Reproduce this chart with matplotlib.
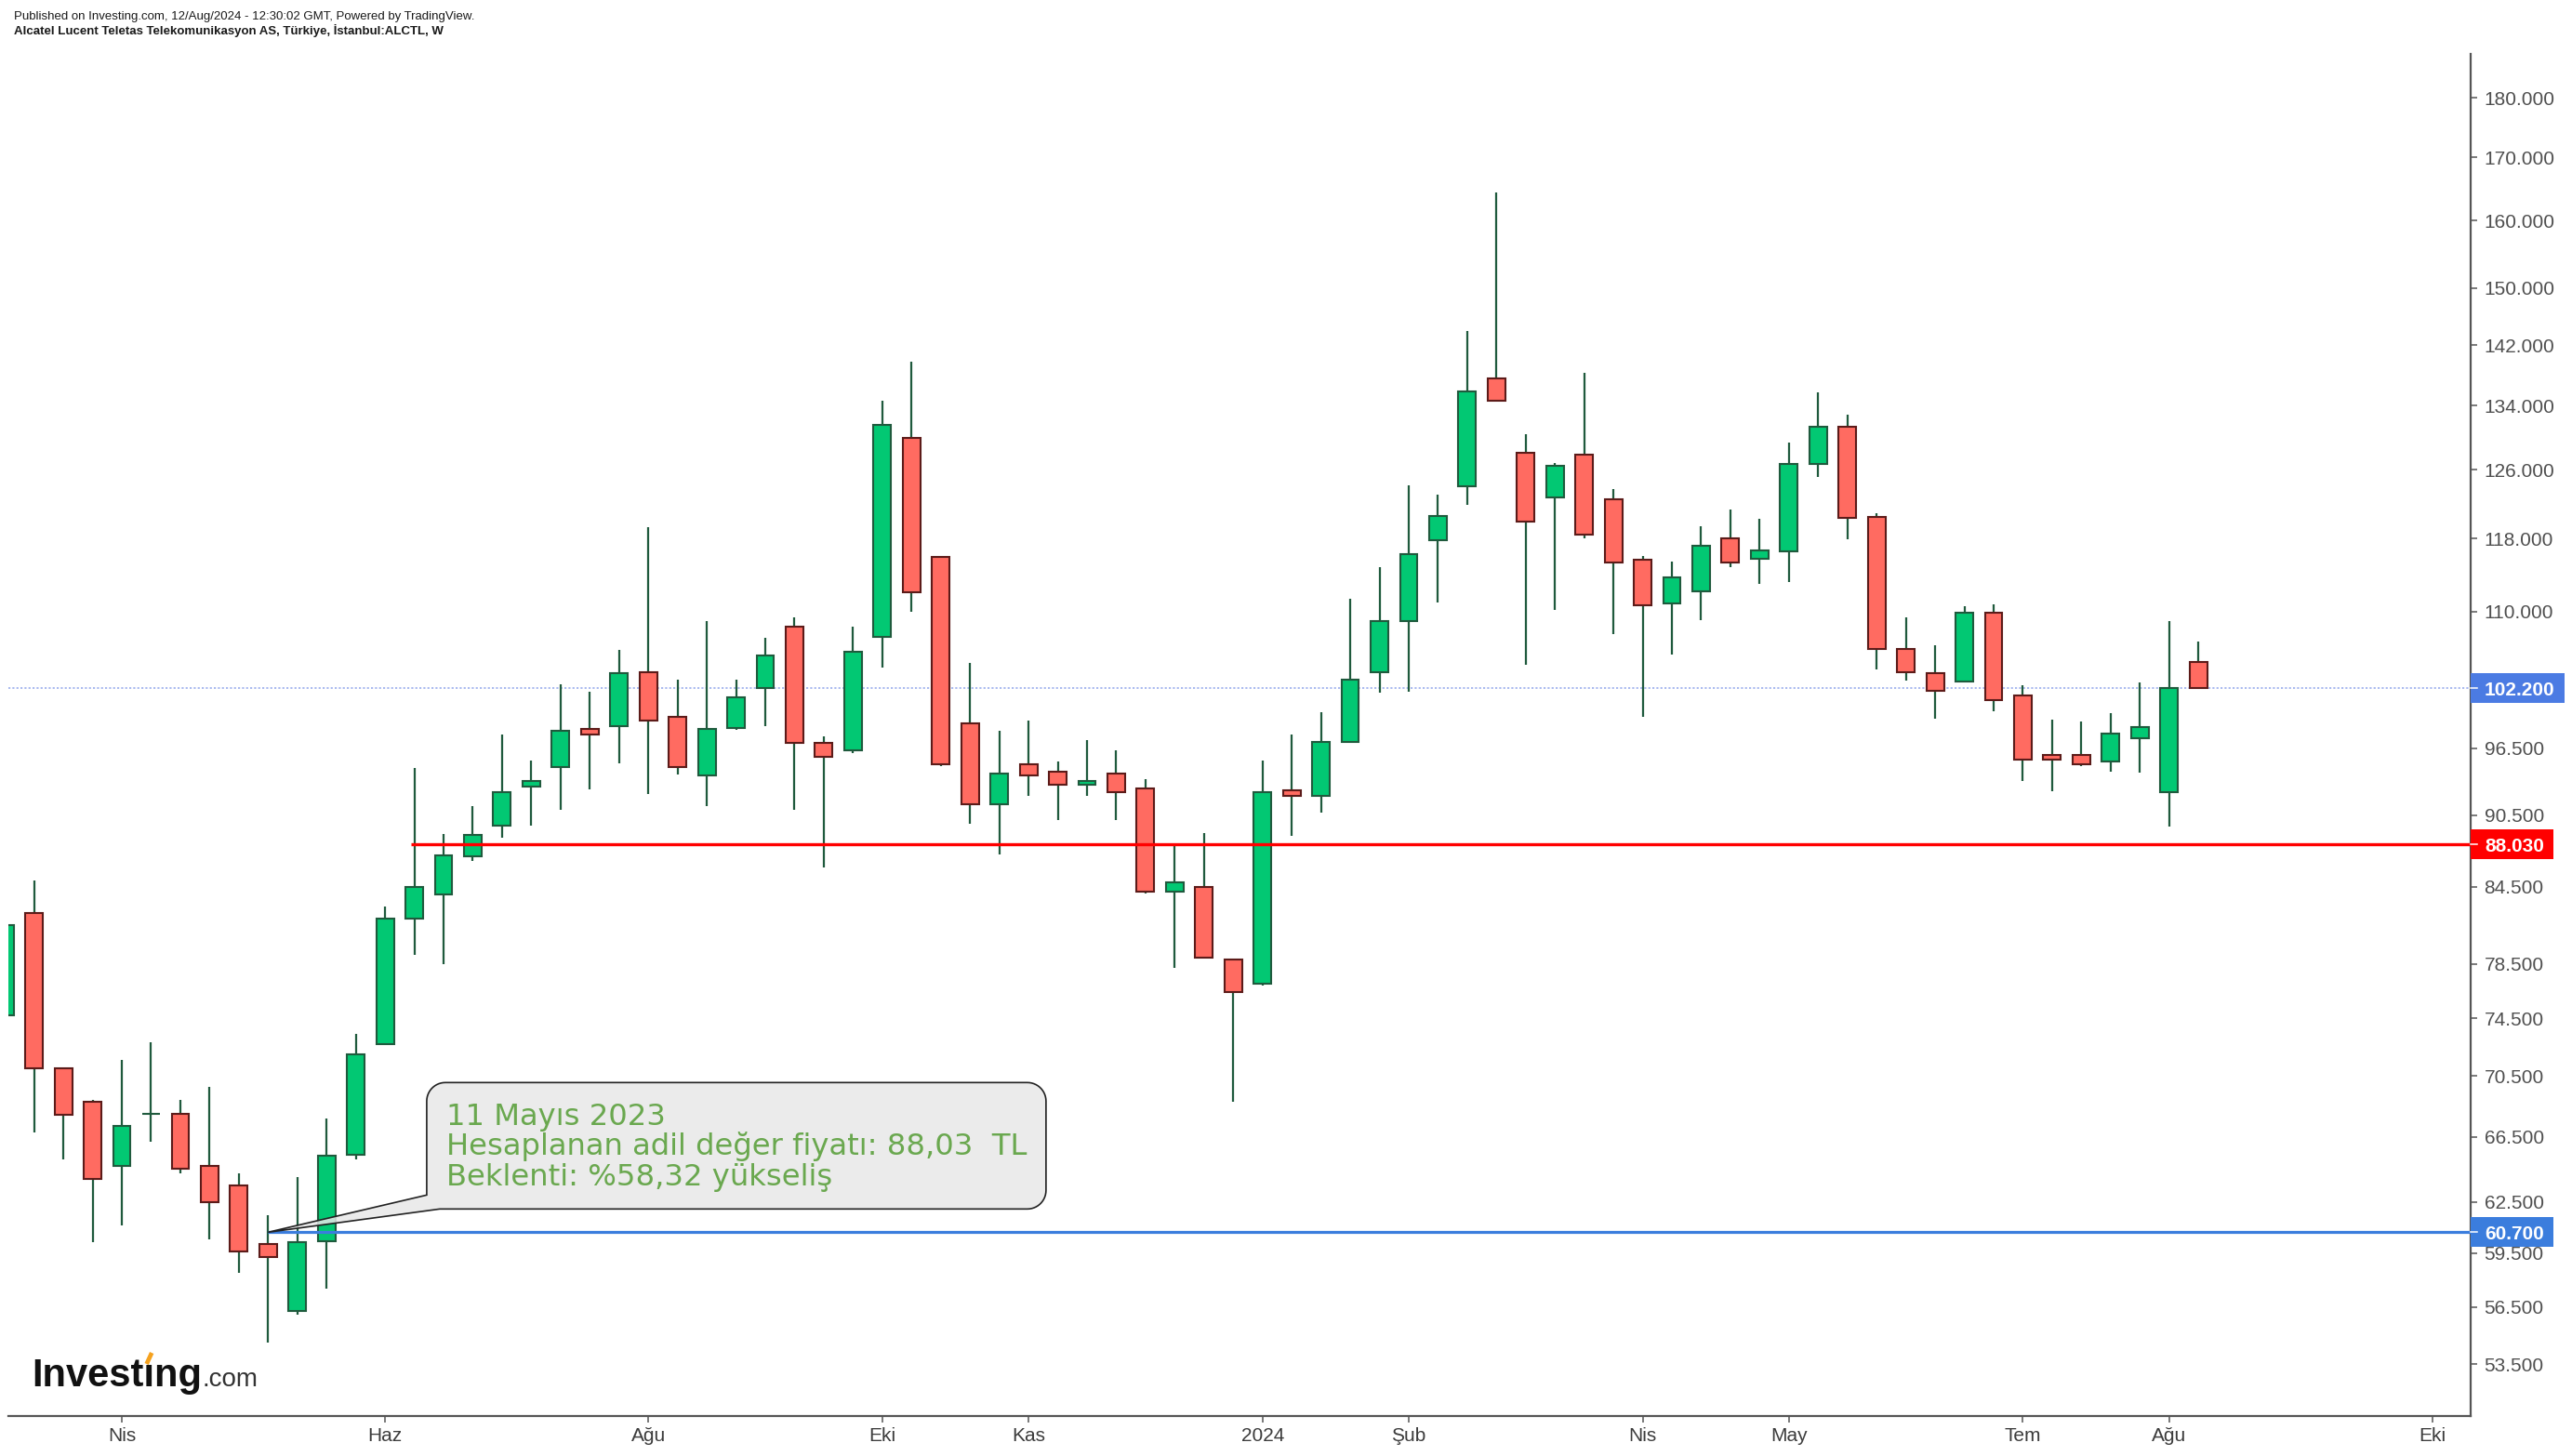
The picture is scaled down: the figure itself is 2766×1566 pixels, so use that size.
import numpy as np
import pandas as pd
import matplotlib
matplotlib.use("Agg")
import matplotlib.pyplot as plt
from matplotlib.patches import Rectangle, Polygon
from matplotlib.transforms import IdentityTransform
from matplotlib.lines import Line2D
from matplotlib.ticker import NullLocator, NullFormatter

# ---------------- data (weekly OHLC, ALCTL) ----------------
first_week = "2023-03-06"
opens = [74.7, 82.4, 71.0, 68.8, 64.7, 68.0, 68.0, 64.7, 63.5, 60.0,
         56.3, 60.2, 65.4, 72.7, 82.0, 83.9, 87.0, 89.6, 93.0, 94.8,
         98.3, 98.6, 103.8, 99.5, 94.0, 98.4, 102.2, 108.4, 97.0, 96.3,
         107.4, 129.9, 115.9, 98.8, 91.5, 95.0, 94.4, 93.2, 94.2, 92.9,
         84.1, 84.5, 78.8, 77.0, 92.7, 92.2, 97.1, 103.8, 109.0, 117.8,
         124.0, 137.5, 128.1, 122.7, 127.9, 122.5, 115.6, 110.9, 112.2, 118.0,
         115.7, 116.5, 126.7, 131.3, 120.4, 106.1, 103.7, 102.9, 109.9, 101.5,
         95.9, 95.9, 95.3, 97.4, 92.5, 104.8]
highs = [81.8, 85.0, 71.0, 68.9, 71.6, 72.8, 68.9, 69.8, 64.2, 61.7,
         64.0, 67.7, 73.4, 82.9, 94.7, 88.9, 91.3, 97.8, 95.4, 102.6,
         101.9, 106.0, 119.3, 103.1, 109.0, 103.1, 107.3, 109.4, 97.6, 108.4,
         134.6, 139.8, 116.0, 104.7, 98.1, 99.1, 95.3, 97.3, 96.3, 93.7,
         87.9, 89.0, 78.9, 95.4, 97.8, 99.9, 111.4, 114.8, 124.1, 123.1,
         143.9, 164.4, 130.4, 126.8, 138.3, 123.7, 116.0, 115.4, 119.4, 121.3,
         120.2, 129.3, 135.7, 132.8, 120.9, 109.4, 106.5, 110.6, 110.8, 102.5,
         99.2, 99.0, 99.8, 102.8, 109.0, 106.9]
lows = [74.5, 66.8, 65.1, 60.1, 61.1, 66.2, 64.2, 60.3, 58.4, 54.6,
        56.1, 57.5, 65.1, 72.6, 79.2, 78.5, 86.6, 88.6, 89.6, 91.0,
        92.8, 95.1, 92.4, 94.1, 91.3, 98.2, 98.6, 91.0, 86.1, 96.1,
        104.3, 110.0, 94.9, 89.8, 87.2, 92.2, 90.1, 92.2, 90.1, 84.0,
        78.2, 78.9, 68.8, 76.9, 88.7, 90.7, 97.0, 101.8, 101.9, 111.0,
        121.8, 134.5, 104.5, 110.2, 118.0, 107.7, 99.5, 105.6, 109.1, 114.8,
        113.0, 113.2, 125.2, 117.9, 104.1, 103.0, 99.3, 102.8, 100.0, 93.5,
        92.6, 94.9, 94.4, 94.3, 89.5, 102.2]
closes = [81.5, 71.0, 67.9, 63.9, 67.2, 68.0, 64.5, 62.5, 59.6, 59.3,
          60.1, 65.3, 72.0, 82.0, 84.5, 87.1, 88.8, 92.5, 93.5, 98.1,
          97.8, 103.7, 99.1, 94.8, 98.3, 101.3, 105.5, 97.0, 95.7, 105.9,
          131.5, 112.1, 95.0, 91.5, 94.2, 94.0, 93.2, 93.5, 92.5, 84.1,
          84.9, 79.0, 76.4, 92.5, 92.2, 97.1, 103.1, 109.0, 116.2, 120.6,
          135.8, 134.6, 119.9, 126.5, 118.4, 115.3, 110.7, 113.7, 117.2, 115.3,
          116.6, 126.7, 131.3, 120.3, 106.1, 103.8, 102.0, 109.9, 101.1, 95.5,
          95.5, 95.0, 97.9, 98.5, 102.2, 102.2]

month_tick_dates = ["2023-04-03", "2023-06-05", "2023-08-07", "2023-10-02",
                    "2023-11-06", "2024-01-01", "2024-02-05", "2024-04-01",
                    "2024-05-06", "2024-07-01", "2024-08-05", "2024-10-07"]
month_tick_labels = ["Nis", "Haz", "Ağu", "Eki", "Kas", "2024", "Şub", "Nis",
                     "May", "Tem", "Ağu", "Eki"]
price_ticks = [53.5, 56.5, 59.5, 62.5, 66.5, 70.5, 74.5, 78.5, 84.5, 90.5,
               96.5, 110, 118, 126, 134, 142, 150, 160, 170, 180]

last_price = 102.2
fair_value = 88.03
fair_line_start_bar = 13.9
anchor_date = "2023-05-08"
anchor_price = 60.7

header1 = "Published on Investing.com, 12/Aug/2024 - 12:30:02 GMT, Powered by TradingView."
header2 = "Alcatel Lucent Teletas Telekomunikasyon AS, Türkiye, İstanbul:ALCTL, W"
note_lines = ["11 Mayıs 2023",
              "Hesaplanan adil değer fiyatı: 88,03  TL",
              "Beklenti: %58,32 yükseliş"]

# ---------------- styling ----------------
UP_FILL, DN_FILL = "#02c873", "#ff6b61"
UP_EDGE, DN_EDGE = "#1f5a3d", "#5c1b19"
WICK = "#1f5a3d"
AXIS_C = "#555555"
LABEL_C = "#4f4f4f"

W, H = 2766, 1566
fig = plt.figure(figsize=(W / 100, H / 100), dpi=100)
fig.patch.set_facecolor("white")
ax = fig.add_axes([9 / W, 1 - 1523 / H, (2657 - 9) / W, (1523 - 58) / H])


def bar_index(d):
    return (pd.Timestamp(d) - pd.Timestamp(first_week)).days / 7.0


O = np.array(opens)
C = np.array(closes)
Hh = np.array(highs)
L = np.array(lows)
x = np.arange(len(O))
up = C >= O

ax.set_yscale("log")
ax.vlines(x, L, Hh, colors=WICK, linewidth=1.6, zorder=2)
ax.bar(x, np.abs(C - O), bottom=np.minimum(O, C), width=0.6,
       color=[UP_FILL if u else DN_FILL for u in up],
       edgecolor=[UP_EDGE if u else DN_EDGE for u in up],
       linewidth=1.5, zorder=3)

xmax = 84.31
ax.axhline(last_price, color="#a3b4ee", lw=1.3, ls=(0, (1.2, 1.2)), zorder=1)
ax.plot([fair_line_start_bar, xmax], [fair_value, fair_value], color="#ff0000",
        lw=2.4, zorder=4, solid_capstyle="butt")
anchor_bar = bar_index(anchor_date)
ax.plot([anchor_bar, xmax], [anchor_price, anchor_price], color="#3b7ddd",
        lw=2.3, zorder=4, solid_capstyle="butt")

ax.set_xlim(0.12, xmax)
ax.set_ylim(50.9, 187.7)

# axes look
for s in ["left", "top"]:
    ax.spines[s].set_visible(False)
for s in ["right", "bottom"]:
    ax.spines[s].set_color(AXIS_C)
    ax.spines[s].set_linewidth(1.6)

ax.yaxis.tick_right()
ax.set_yticks(price_ticks, labels=[f"{v:.3f}" for v in price_ticks])
ax.yaxis.set_minor_locator(NullLocator())
ax.yaxis.set_minor_formatter(NullFormatter())
ax.set_xticks([bar_index(d) for d in month_tick_dates], labels=month_tick_labels)
ax.tick_params(axis="y", length=5, width=1.1, color=AXIS_C, labelcolor=LABEL_C,
               labelsize=15, pad=5.5)
ax.tick_params(axis="x", length=5, width=1.1, color=AXIS_C, labelcolor="#3c3c3c",
               labelsize=15, pad=3.5)
for lab in ax.get_xticklabels() + ax.get_yticklabels():
    lab.set_family("Liberation Sans")

renderer = fig.canvas.get_renderer()
ID = IdentityTransform()

# price tags on the right axis
axis_x = ax.transAxes.transform((1, 0))[0]
for v, fc in [(last_price, "#4b7be3"), (fair_value, "#ff0000"), (anchor_price, "#3b7ddd")]:
    yd = ax.transData.transform((1, v))[1]
    t = fig.text(axis_x + 15, yd - 7.5, f"{v:.3f}", transform=ID, ha="left",
                 va="baseline", fontsize=15, fontweight="bold", color="white",
                 family="Liberation Sans", zorder=12)
    bb = t.get_window_extent(renderer)
    fig.add_artist(Rectangle((axis_x, yd - 16), bb.x1 - axis_x + 10, 32,
                             transform=ID, fc=fc, ec="none", zorder=11))
    fig.add_artist(Line2D([axis_x, axis_x + 7], [yd, yd], transform=ID,
                          color="white", lw=1.1, zorder=12))

# header
fig.text(15, H - 20.7, header1, transform=ID, fontsize=9.5, family="Liberation Sans",
         color="#1a1a1a", va="baseline")
fig.text(15, H - 37.3, header2, transform=ID, fontsize=9.5, fontweight="bold",
         family="Liberation Sans", color="#1a1a1a", va="baseline")

# callout
axp, ayp = ax.transData.transform((anchor_bar, anchor_price))
Lb, Rb, Bb, Tb, r = axp + 170.6, axp + 836.6, ayp + 25, ayp + 161, 20


def arc(cx, cy, a0, a1, n=14):
    tt = np.radians(np.linspace(a0, a1, n))
    return list(zip(cx + r * np.cos(tt), cy + r * np.sin(tt)))


verts = [(axp, ayp), (Lb, Bb + 15), (Lb, Tb - r)]
verts += arc(Lb + r, Tb - r, 180, 90)
verts += [(Rb - r, Tb)]
verts += arc(Rb - r, Tb - r, 90, 0)
verts += [(Rb, Bb + r)]
verts += arc(Rb - r, Bb + r, 0, -90)
verts += [(Lb + 14, Bb)]
fig.add_artist(Polygon(verts, closed=True, transform=ID, fc=(0.91, 0.91, 0.91, 0.85),
                       ec="#222222", lw=1.2, zorder=8))
for k, line in enumerate(note_lines):
    fig.text(Lb + 21, ayp + 115.5 - 32.5 * k, line, transform=ID, fontsize=23.2,
             family="DejaVu Sans", color="#6aa84f", va="baseline", zorder=9)

# Investing.com logo
base_y = H - 1491
t_logo = fig.text(34, base_y, "Investıng", transform=ID, fontsize=30, fontweight="bold",
                  family="Liberation Sans", color="#111111", va="baseline", zorder=9)
bbl = t_logo.get_window_extent(renderer)
fig.text(bbl.x1 + 1, base_y, ".com", transform=ID, fontsize=20,
         family="Liberation Sans", color="#333333", va="baseline", zorder=9)
tmp = fig.text(34, base_y, "Invest", transform=ID, fontsize=30, fontweight="bold",
               family="Liberation Sans")
w_inv = tmp.get_window_extent(renderer).width
tmp.remove()
xi = 34 + w_inv + 5.8
fig.add_artist(Line2D([xi - 2.5, xi + 3], [base_y + 24, base_y + 36], transform=ID,
                      color="#f5a21f", lw=3.4, solid_capstyle="butt", zorder=10))

fig.savefig("out.png", dpi=100, facecolor="white")
